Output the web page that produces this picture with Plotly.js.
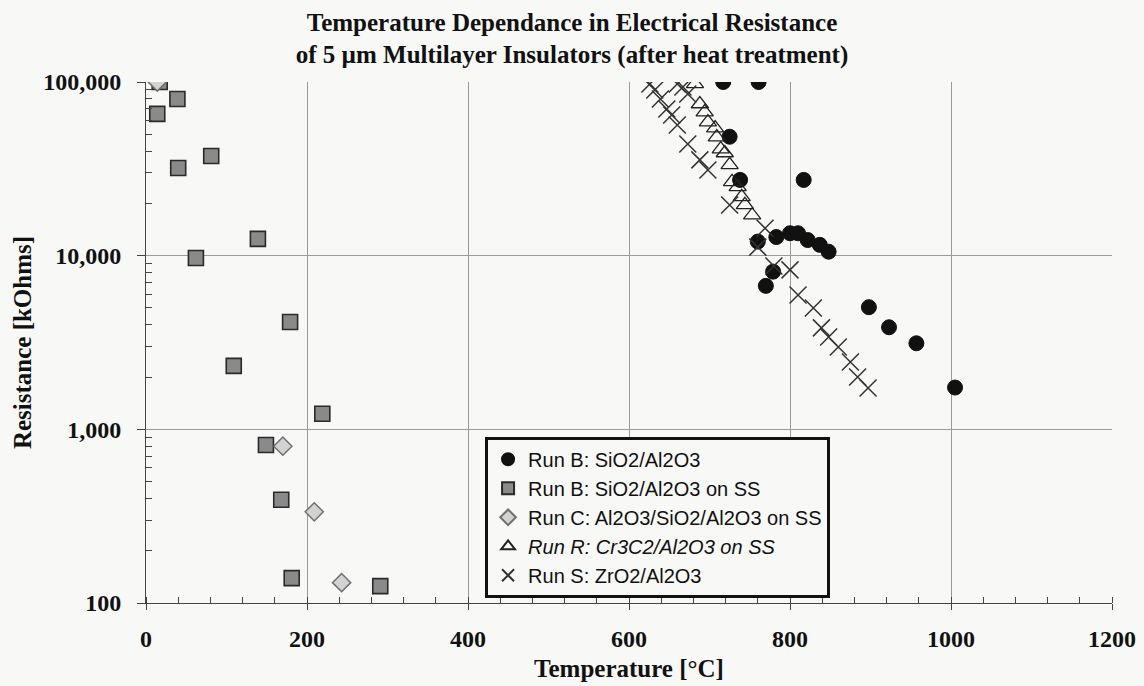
<!DOCTYPE html>
<html>
<head>
<meta charset="utf-8">
<script src="https://cdn.plot.ly/plotly-3.0.1.min.js"></script>
<style>html,body{margin:0;padding:0;background:#f8f8f7;}#chart{width:1144px;height:686px;}</style>
</head>
<body>
<div id="chart"></div>
<script>
// Run B: SiO2/Al2O3
const runB_T = [717, 761, 725, 738, 817, 760, 783, 800, 810, 822, 837, 848, 779, 770, 898, 923, 957, 1005];
const runB_R = [100000, 100000, 48400, 27300, 27300, 12050, 12800, 13460, 13460, 12300, 11540, 10540, 8090, 6700, 5050, 3870, 3130, 1740];
// Run B: SiO2/Al2O3 on SS
const runBSS_T = [14, 17, 39, 40, 81, 62, 139, 179, 109, 219, 149, 168, 181, 291];
const runBSS_R = [65500, 100000, 79800, 32000, 37500, 9700, 12500, 4150, 2320, 1230, 813, 393, 139, 125];
// Run C: Al2O3/SiO2/Al2O3 on SS
const runC_T = [14, 170, 209, 243];
const runC_R = [100000, 800, 335, 131];
// Run R: Cr3C2/Al2O3 on SS
const runR_T = [682, 688, 694, 698, 707, 709, 714, 719, 725, 728, 735, 740, 744, 753];
const runR_R = [97500, 74700, 67100, 58800, 54300, 48200, 41100, 39000, 33300, 26600, 24900, 21800, 19600, 17100];
// Run S: ZrO2/Al2O3
const runS_T = [626, 632, 639, 647, 653, 660, 673, 688, 698, 660, 667, 673, 725, 769, 760, 780, 800, 810, 829, 839, 848, 860, 875, 884, 897];
const runS_R = [97500, 89900, 79800, 69900, 64600, 56500, 44000, 35600, 31100, 97500, 93600, 85300, 19600, 14400, 11200, 8730, 8280, 5940, 5000, 3840, 3400, 2980, 2440, 2000, 1730];

const xTicks = [0, 200, 400, 600, 800, 1000, 1200];
const yTickVals = [100, 1000, 10000, 100000];
const yTickText = ["100", "1,000", "10,000", "100,000"];
const seriesNames = ["Run B: SiO2/Al2O3", "Run B: SiO2/Al2O3 on SS", "Run C: Al2O3/SiO2/Al2O3 on SS", "<i>Run R: Cr3C2/Al2O3 on SS</i>", "Run S: ZrO2/Al2O3"];

const yMinor = [];
[100, 1000, 10000].forEach(d => { for (let k = 2; k <= 9; k++) yMinor.push(d * k); });

const traces = [
  {x: runB_T, y: runB_R, name: seriesNames[0], mode: 'markers', type: 'scatter',
   marker: {symbol: 'circle', size: 15, color: '#111', line: {color: '#111', width: 1}}},
  {x: runBSS_T, y: runBSS_R, name: seriesNames[1], mode: 'markers', type: 'scatter',
   marker: {symbol: 'square', size: 15, color: '#8a8a8a', line: {color: '#2a2a2a', width: 1.6}}},
  {x: runC_T, y: runC_R, name: seriesNames[2], mode: 'markers', type: 'scatter',
   marker: {symbol: 'diamond', size: 14, color: '#d2d2d2', line: {color: '#6f6f6f', width: 1.5}}},
  {x: runR_T, y: runR_R, name: seriesNames[3], mode: 'markers', type: 'scatter',
   marker: {symbol: 'triangle-up-open', size: 15, color: '#222', line: {color: '#222', width: 1.3}}},
  {x: runS_T, y: runS_R, name: seriesNames[4], mode: 'markers', type: 'scatter',
   marker: {symbol: 'x-thin-open', size: 17, color: '#333', line: {color: '#333', width: 1.5}}}
];

const serif = 'Liberation Serif, Times New Roman, serif';
const layout = {
  width: 1144, height: 686,
  paper_bgcolor: '#f8f8f7', plot_bgcolor: '#f8f8f7',
  margin: {l: 146, r: 32, t: 82, b: 83},
  showlegend: true,
  title: {
    text: 'Temperature Dependance in Electrical Resistance<br>of 5 \u00b5m Multilayer Insulators (after heat treatment)',
    x: 0.5, xanchor: 'center', xref: 'container', y: 0.955, yanchor: 'top', yref: 'container',
    font: {family: serif, size: 25, color: '#111', weight: 'bold'}
  },
  xaxis: {
    range: [0, 1200], tickvals: xTicks, ticks: 'outside', ticklen: 6, tickcolor: '#444',
    showgrid: true, gridcolor: '#9a9a9a', gridwidth: 1, zeroline: false,
    showline: true, linecolor: '#444', linewidth: 1,
    tickfont: {family: serif, size: 24, color: '#111', weight: 'bold'},
    ticklabelstandoff: 8,
    minor: {dtick: 40, ticks: 'inside', ticklen: 6, tickcolor: '#444', showgrid: false},
    title: {text: 'Temperature [\u00b0C]', standoff: 8, font: {family: serif, size: 25, color: '#111', weight: 'bold'}},
    automargin: false
  },
  yaxis: {
    type: 'log', range: [2, 5], tickvals: yTickVals, ticktext: yTickText,
    ticks: 'outside', ticklen: 8, tickcolor: '#444',
    showgrid: true, gridcolor: '#9a9a9a', gridwidth: 1, zeroline: false,
    showline: true, linecolor: '#444', linewidth: 1,
    tickfont: {family: serif, size: 24, color: '#111', weight: 'bold'},
    ticklabelstandoff: 11,
    minor: {tickvals: yMinor, ticks: 'inside', ticklen: 6, tickcolor: '#444', showgrid: false},
    title: {text: 'Resistance [kOhms]', standoff: 4, font: {family: serif, size: 25, color: '#111', weight: 'bold'}},
    automargin: false
  },
  legend: {
    x: 0.351, y: 0.319, xanchor: 'left', yanchor: 'top',
    bgcolor: '#f8f8f7', bordercolor: '#111', borderwidth: 3,
    font: {family: 'Liberation Sans, Arial, sans-serif', size: 20, color: '#111'},
    tracegroupgap: 0, itemsizing: 'constant'
  }
};

Plotly.newPlot('chart', traces, layout, {displayModeBar: false, staticPlot: true});
</script>
</body>
</html>
